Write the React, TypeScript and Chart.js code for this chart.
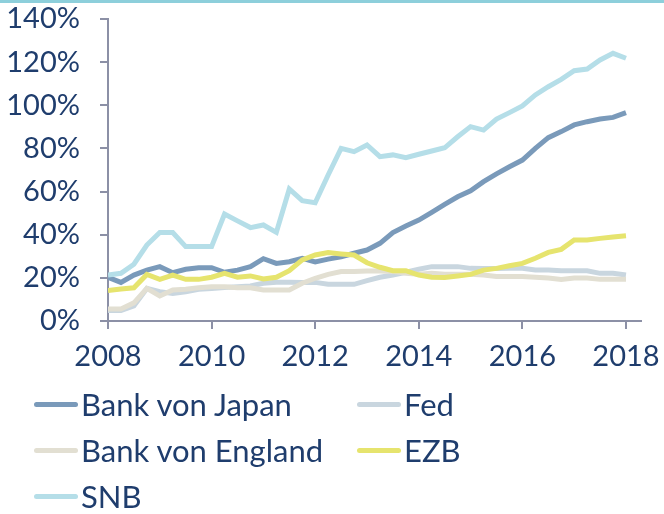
import React, { useEffect, useRef } from "react";
import { Chart, registerables } from "chart.js";

Chart.register(...registerables);

const quarters = [
  2008, 2008.25, 2008.5, 2008.75, 2009, 2009.25, 2009.5, 2009.75,
  2010, 2010.25, 2010.5, 2010.75, 2011, 2011.25, 2011.5, 2011.75,
  2012, 2012.25, 2012.5, 2012.75, 2013, 2013.25, 2013.5, 2013.75,
  2014, 2014.25, 2014.5, 2014.75, 2015, 2015.25, 2015.5, 2015.75,
  2016, 2016.25, 2016.5, 2016.75, 2017, 2017.25, 2017.5, 2017.75, 2018,
];

const xTickValues = [2008, 2010, 2012, 2014, 2016, 2018];
const yTickValues = [0, 20, 40, 60, 80, 100, 120, 140];

const seriesNames = ["Bank von Japan", "Fed", "Bank von England", "EZB", "SNB"];
const seriesColors = ["#7a9aba", "#c9d6df", "#e2dfd2", "#e6e46e", "#b5dee8"];
// lower value = drawn later (on top)
const drawOrder = [5, 4, 3, 2, 1];

const bankOfJapan = [
  20.3, 17.9, 21.3, 23.6, 25.2, 22.4, 24, 24.7, 24.7, 22.6, 23.6, 25.2, 28.9, 26.7,
  27.5, 29.1, 27.4, 28.7, 29.8, 31.4, 32.9, 36, 41, 44, 46.8, 50.4, 54.1, 57.6, 60.4,
  64.6, 68.2, 71.5, 74.6, 80, 85, 87.8, 90.9, 92.4, 93.6, 94.4, 96.6,
];
const fed = [
  4.9, 4.9, 7.0, 15.1, 13.6, 12.8, 13.6, 14.7, 15.1, 15.5, 15.9, 16.2, 17.5, 18, 18,
  17.9, 17.9, 17, 17, 17, 18.7, 20.3, 21.3, 22.6, 24, 25.2, 25.2, 25.2, 24.4, 24.3,
  24.3, 24.4, 24.4, 23.6, 23.6, 23.3, 23.3, 23.3, 22.1, 22.1, 21.3,
];
const bankOfEngland = [
  5.6, 5.6, 8.4, 15.1, 11.6, 14.4, 14.7, 15.4, 15.9, 15.9, 15.4, 15.4, 14.4, 14.4,
  14.4, 17.5, 19.8, 21.6, 22.9, 22.9, 23.2, 23.2, 23, 22.1, 21.7, 22.1, 21.7, 21.7,
  21.7, 21.3, 20.6, 20.6, 20.6, 20.3, 19.9, 19.3, 19.9, 19.9, 19.3, 19.3, 19.3,
];
const ezb = [
  14.1, 14.8, 15.4, 21.6, 19.3, 21.3, 19.3, 19.3, 20.3, 22.1, 20.3, 20.9, 19.5, 20.3,
  23.3, 28.3, 30.6, 31.7, 31.1, 30.6, 27, 24.9, 23.3, 23.3, 21.3, 20.3, 20.2, 20.9,
  21.6, 23.6, 24.4, 25.6, 26.7, 29.1, 31.8, 33.2, 37.6, 37.6, 38.3, 38.9, 39.5,
];
const snb = [
  21.3, 22.1, 26.3, 35.2, 41, 41, 34.5, 34.5, 34.5, 49.6, 46.4, 43.3, 44.5, 41.1,
  61.2, 55.8, 54.8, 67.7, 80, 78.5, 81.6, 76.2, 77, 75.7, 77.3, 78.8, 80.3, 85.4,
  90.1, 88.5, 93.6, 96.6, 99.7, 104.8, 108.6, 112, 116, 116.8, 121, 124.1, 121.8,
];

const seriesValues = [bankOfJapan, fed, bankOfEngland, ezb, snb];

const TEXT = "#1f3d6d";
const AXIS = "#8c90a6";
const FONT = "Lato";
const CANVAS_W = 664;
const CANVAS_H = 385;

export default function App() {
  const ref = useRef<HTMLCanvasElement | null>(null);

  useEffect(() => {
    if (!ref.current) return;
    const chart = new Chart(ref.current, {
      type: "line",
      data: {
        datasets: seriesNames.map((name, i) => ({
          label: name,
          data: quarters.map((x, j) => ({ x, y: seriesValues[i][j] })),
          borderColor: seriesColors[i],
          backgroundColor: seriesColors[i],
          borderWidth: 5,
          pointRadius: 0,
          tension: 0,
          fill: false,
          order: drawOrder[i],
        })),
      },
      options: {
        animation: false,
        responsive: false,
        devicePixelRatio: 1,
        layout: { padding: { top: 19, right: 23, left: 0, bottom: 0 } },
        plugins: { legend: { display: false }, tooltip: { enabled: false } },
        scales: {
          x: {
            type: "linear",
            min: 2008,
            max: 2018.29,
            afterBuildTicks: (s: any) => {
              s.ticks = xTickValues.map((v) => ({ value: v }));
            },
            afterFit: (s: any) => {
              s.height = CANVAS_H - 321;
              s.paddingLeft = 0;
              s.paddingRight = 0;
            },
            ticks: {
              callback: (v: any) => String(v),
              color: TEXT,
              font: { family: FONT, size: 29 },
              padding: 10,
              maxRotation: 0,
              autoSkip: false,
            },
            grid: {
              display: true,
              drawOnChartArea: false,
              drawTicks: true,
              tickLength: 8,
              color: AXIS,
              lineWidth: 2,
            },
            border: { display: true, color: AXIS, width: 2 },
          },
          y: {
            type: "linear",
            min: 0,
            max: 140,
            afterBuildTicks: (s: any) => {
              s.ticks = yTickValues.map((v) => ({ value: v }));
            },
            afterFit: (s: any) => {
              s.width = 108;
              s.paddingTop = 0;
              s.paddingBottom = 0;
            },
            ticks: {
              callback: (v: any) => v + "%",
              color: TEXT,
              font: { family: FONT, size: 29 },
              padding: 20,
              autoSkip: false,
            },
            grid: {
              display: true,
              drawOnChartArea: false,
              drawTicks: true,
              tickLength: 8,
              color: AXIS,
              lineWidth: 2,
            },
            border: { display: true, color: AXIS, width: 2 },
          },
        },
      },
    });
    return () => chart.destroy();
  }, []);

  return (
    <div
      style={{
        position: "absolute",
        left: 0,
        top: 0,
        width: 664,
        height: 514,
        background: "#fff",
        overflow: "hidden",
      }}
    >
      <div
        style={{ position: "absolute", left: 0, top: 0, width: 664, height: 3, background: "#8dcfdb" }}
      />
      <canvas
        ref={ref}
        width={CANVAS_W}
        height={CANVAS_H}
        style={{ position: "absolute", left: 0, top: 0, width: CANVAS_W, height: CANVAS_H }}
      />
      <div
        style={{
          position: "absolute",
          left: 34,
          top: 381,
          display: "grid",
          gridTemplateColumns: "323px auto",
          gridAutoRows: "46px",
          fontFamily: FONT,
          fontSize: 31,
          color: TEXT,
        }}
      >
        {seriesNames.map((name, i) => (
          <div key={name} style={{ display: "flex", alignItems: "center", whiteSpace: "nowrap" }}>
            <span
              style={{
                display: "inline-block",
                width: 44,
                height: 5,
                borderRadius: 3,
                background: seriesColors[i],
                marginRight: 3,
              }}
            />
            <span>{name}</span>
          </div>
        ))}
      </div>
    </div>
  );
}
